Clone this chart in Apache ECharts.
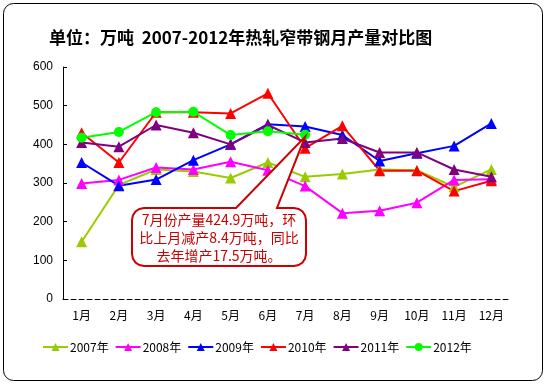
<!DOCTYPE html>
<html><head><meta charset="utf-8">
<script src="https://cdn.jsdelivr.net/npm/echarts@6/dist/echarts.min.js"></script>
<style>html,body{margin:0;padding:0;background:#fff}#c{width:546px;height:384px}</style>
</head><body><div id="c"></div>
<script>
const months = ['1月','2月','3月','4月','5月','6月','7月','8月','9月','10月','11月','12月'];
const yTicks = [0,100,200,300,400,500,600];
const s2007 = [148,295,335,330,313,353,316,323,335,333,290,335];
const s2008 = [299,308,340,335,355,333,292,222,228,249,308,310];
const s2009 = [353,293,309,359,400,452,446,424,357,377,396,454];
const s2010 = [430,353,483,483,480,532,390,448,332,332,279,306];
const s2011 = [405,394,450,430,400,450,405,415,379,379,335,316];
const s2012 = [417,432,483,484,424,434,424.9];
const names = ['2007年','2008年','2009年','2010年','2011年','2012年'];
const colors = ['#99CC00','#FF00FF','#0000FF','#FF0000','#800080','#00FF00'];
const datas = [s2007,s2008,s2009,s2010,s2011,s2012];
const noteLines = ['7月份产量424.9万吨，环','比上月减产8.4万吨，同比','去年增产17.5万吨。'];

const chart = echarts.init(document.getElementById('c'));
const series = datas.map((d,i)=>({
  name: names[i], type:'line', data:d,
  symbol: i===5 ? 'circle' : 'triangle',
  symbolSize: i===5 ? 10 : 11,
  lineStyle:{color:colors[i], width:2},
  itemStyle:{color:colors[i]},
  emphasis:{disabled:true}, animation:false
}));
chart.setOption({
  animation:false,
  title:{text:'单位：万吨  2007-2012年热轧窄带钢月产量对比图', left:44, top:24,
    textStyle:{fontFamily:'Noto Sans CJK SC', fontSize:17, fontWeight:'bold', color:'#000'}},
  grid:{left:63, right:36, top:67, bottom:85},
  legend:{bottom:26, left:37, itemGap:6, itemWidth:25, itemHeight:10,
    textStyle:{fontFamily:'Noto Sans CJK SC', fontSize:12, color:'#000', padding:[0,0,0,-3]},
    data:names},
  xAxis:{type:'category', data:months, boundaryGap:true,
    axisLine:{lineStyle:{color:'#000', width:1, type:[5,3]}},
    axisTick:{inside:true, length:4, lineStyle:{color:'#000'}},
    axisLabel:{color:'#000', fontFamily:'Noto Sans CJK SC', fontSize:12, margin:10}},
  yAxis:{type:'value', min:0, max:600, interval:100,
    axisLine:{show:true, lineStyle:{color:'#000'}},
    axisTick:{show:true, inside:true, length:4, lineStyle:{color:'#000'}},
    splitLine:{show:false},
    axisLabel:{color:'#000', fontFamily:'Liberation Sans', fontSize:12, margin:10,
      formatter:v=>yTicks.includes(v)?String(v):''}},
  series
});

// callout annotation anchored to the July 2012 point
const tip = chart.convertToPixel({seriesIndex:5}, [6, s2012[6]]);
const bx=132, by=208, bw=174, bh=58, r=12;
function arc(cx,cy,a0,a1){const p=[];for(let k=0;k<=4;k++){const a=a0+(a1-a0)*k/4;p.push([cx+r*Math.cos(a),cy+r*Math.sin(a)]);}return p;}
let pts=[];
pts.push(...arc(bx+r,by+r,Math.PI,1.5*Math.PI));
pts.push([236,by],[tip[0],tip[1]+2],[277,by]);
pts.push(...arc(bx+bw-r,by+r,1.5*Math.PI,2*Math.PI));
pts.push(...arc(bx+bw-r,by+bh-r,0,0.5*Math.PI));
pts.push(...arc(bx+r,by+bh-r,0.5*Math.PI,Math.PI));
chart.setOption({graphic:[
  {type:'rect', shape:{x:3.5,y:3.5,width:539,height:377,r:10}, style:{fill:'none', stroke:'#000', lineWidth:1}, silent:true, z:0},
  {type:'polygon', shape:{points:pts}, style:{fill:'#fff', stroke:'#CC0000', lineWidth:2}, z:100},
  {type:'text', x:bx+bw/2, y:by+bh/2+1, z:101,
    style:{text:noteLines.join('\n'), fill:'#CC0000', font:'14px "Noto Sans CJK SC"', align:'center', verticalAlign:'middle', lineHeight:18}}
]});
</script></body></html>
